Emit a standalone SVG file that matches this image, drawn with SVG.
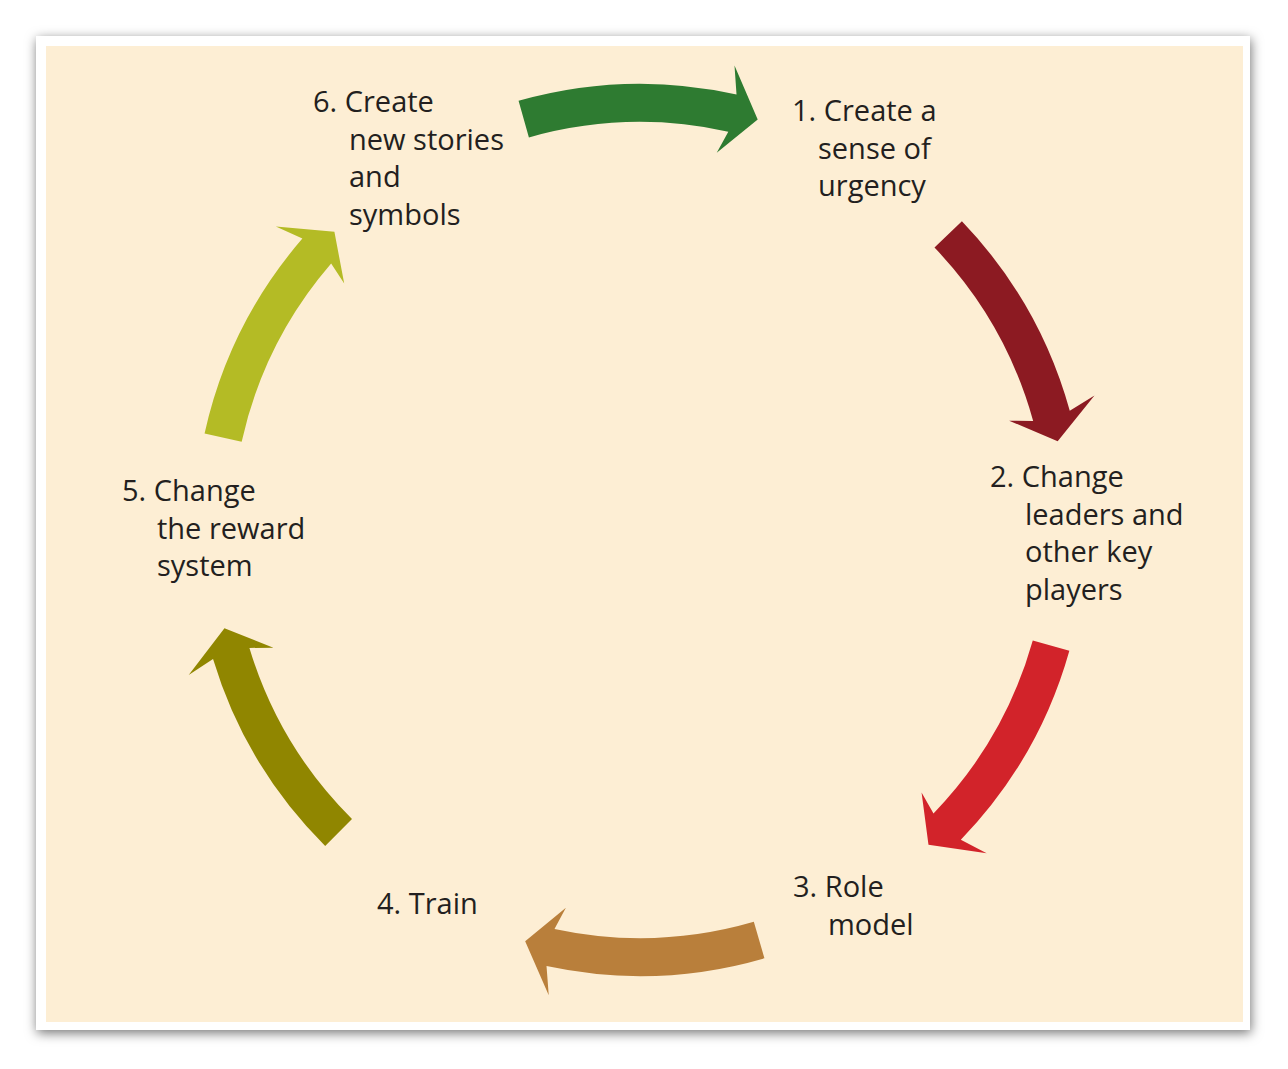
<svg xmlns="http://www.w3.org/2000/svg" xmlns:xlink="http://www.w3.org/1999/xlink" width="1288" height="1069" viewBox="0 0 1288 1069">
<style>
.lbl{font-family:"Open Sans","Noto Sans","Liberation Sans",sans-serif;font-size:29px;fill:#231f20;}
</style>
<defs>
<filter id="sh" x="-5%" y="-5%" width="110%" height="110%">
<feDropShadow dx="1" dy="3" stdDeviation="6" flood-color="#000" flood-opacity="0.55"/>
</filter>
<path id="arr" d="M1069.15,408.56 A446,446 0 0 1 1075.43,626.53 L1104.48,624.5 L1050.46,647.7 L1017.27,606.76 L1038.33,618.31 A408,408 0 0 0 1032.59,418.91 Z"/>
</defs>
<rect width="1288" height="1069" fill="#ffffff"/>
<rect x="36" y="36" width="1214" height="994" fill="#ffffff" filter="url(#sh)"/>
<rect x="46" y="46" width="1197" height="976" fill="#fdeed4"/>
<g id="connectors">
<use xlink:href="#arr" transform="rotate(-90 640 530)" fill="#2e7b31"/>
<use xlink:href="#arr" transform="rotate(-28 640 530)" fill="#8c1a22"/>
<use xlink:href="#arr" transform="rotate(31.5 640 530)" fill="#d2232a"/>
<use xlink:href="#arr" transform="rotate(89.6 640 530)" fill="#b97f3b"/>
<use xlink:href="#arr" transform="rotate(150.7 640 530)" fill="#908600"/>
<use xlink:href="#arr" transform="rotate(208.3 640 530)" fill="#b4bb25"/>
</g>
<g id="node1">
<text class="lbl" x="792" y="121">1. Create a</text>
<text class="lbl" x="818" y="158.5">sense of</text>
<text class="lbl" x="818" y="196">urgency</text>
</g>
<g id="node2">
<text class="lbl" x="990" y="487">2. Change</text>
<text class="lbl" x="1025" y="524.5">leaders and</text>
<text class="lbl" x="1025" y="562">other key</text>
<text class="lbl" x="1025" y="599.5">players</text>
</g>
<g id="node3">
<text class="lbl" x="793" y="897">3. Role</text>
<text class="lbl" x="828" y="934.5">model</text>
</g>
<g id="node4">
<text class="lbl" x="377" y="914">4. Train</text>
</g>
<g id="node5">
<text class="lbl" x="122" y="501">5. Change</text>
<text class="lbl" x="157" y="538.5">the reward</text>
<text class="lbl" x="157" y="576">system</text>
</g>
<g id="node6">
<text class="lbl" x="313" y="112">6. Create</text>
<text class="lbl" x="349" y="149.5">new stories</text>
<text class="lbl" x="349" y="187">and</text>
<text class="lbl" x="349" y="224.5">symbols</text>
</g>
</svg>
